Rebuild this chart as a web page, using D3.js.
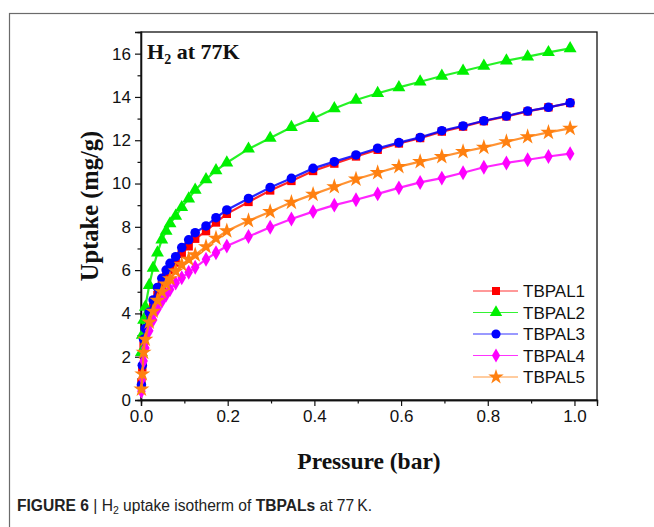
<!DOCTYPE html>
<html>
<head>
<meta charset="utf-8">
<script src="https://cdn.jsdelivr.net/npm/d3@7"></script>
<style>
  body { margin: 0; background: #fff; }
</style>
</head>
<body>
<script>
// Stage
let width = 654;
let height = 527;

let svg = d3.select("body")
            .append("svg")
            .attr("width", width)
            .attr("height", height);

// Colours
let frame_color = "#6b6b6b";
let axis_color = "#111";
let series_colors = ["#ff0000", "#00f000", "#0000ff", "#ff00ff", "#ff8010"];

// Data
const seriesNames = ["TBPAL1", "TBPAL2", "TBPAL3", "TBPAL4", "TBPAL5"];

const pressure = [0.001, 0.003, 0.006, 0.01, 0.019, 0.028, 0.038, 0.048, 0.058, 0.067,
                  0.08, 0.094, 0.11, 0.125, 0.15, 0.173, 0.198, 0.248, 0.298, 0.347,
                  0.397, 0.446, 0.496, 0.546, 0.595, 0.644, 0.694, 0.743, 0.791, 0.843,
                  0.892, 0.94, 0.99];

const tbpal1 = [0.8, 1.5, 2.5, 3.0, 3.7, 4.3, 4.85, 5.3, 5.7, 6.0,
                6.35, 6.75, 7.1, 7.45, 7.8, 8.2, 8.6, 9.15, 9.68, 10.12,
                10.58, 10.92, 11.25, 11.56, 11.85, 12.1, 12.4, 12.63, 12.88, 13.1,
                13.33, 13.52, 13.72];
const tbpal2 = [2.2, 3.0, 3.7, 4.3, 5.3, 6.1, 6.8, 7.4, 7.8, 8.15,
                8.5, 8.9, 9.3, 9.7, 10.19, 10.6, 10.96, 11.6, 12.1, 12.6,
                13.01, 13.47, 13.86, 14.17, 14.44, 14.7, 14.97, 15.2, 15.43, 15.67,
                15.86, 16.06, 16.24];
const tbpal3 = [0.7, 1.6, 2.8, 3.3, 4.05, 4.62, 5.2, 5.62, 6.0, 6.31,
                6.62, 7.04, 7.4, 7.73, 8.04, 8.42, 8.78, 9.31, 9.82, 10.24,
                10.7, 11.01, 11.32, 11.63, 11.89, 12.13, 12.44, 12.66, 12.9, 13.12,
                13.35, 13.52, 13.73];
const tbpal4 = [0.4, 1.0, 1.8, 2.4, 3.2, 3.7, 4.2, 4.55, 4.85, 5.1,
                5.4, 5.65, 5.9, 6.13, 6.5, 6.8, 7.11, 7.55, 7.98, 8.36,
                8.7, 9.0, 9.25, 9.52, 9.8, 10.05, 10.25, 10.5, 10.75, 10.95,
                11.1, 11.25, 11.38];
const tbpal5 = [0.5, 1.2, 2.2, 2.8, 3.6, 4.1, 4.6, 5.0, 5.35, 5.6,
                5.95, 6.25, 6.5, 6.7, 7.08, 7.47, 7.81, 8.28, 8.7, 9.13,
                9.5, 9.85, 10.2, 10.5, 10.78, 11.01, 11.24, 11.47, 11.67, 11.93,
                12.16, 12.36, 12.55];

const xTicks = [0, 0.2, 0.4, 0.6, 0.8, 1.0];
const xMinorTicks = [0.1, 0.3, 0.5, 0.7, 0.9];
const yTicks = [0, 2, 4, 6, 8, 10, 12, 14, 16];
const yMinorTicks = [1, 3, 5, 7, 9, 11, 13, 15];

const uptake = [tbpal1, tbpal2, tbpal3, tbpal4, tbpal5];
const symbols = [d3.symbolSquare, d3.symbolTriangle, d3.symbolCircle, d3.symbolDiamond, d3.symbolStar];
const symbolSizes = [70, 72, 72, 64, 80];

// Outer figure frame
svg.append("rect")
  .attr("x", 9.5)
  .attr("y", 13.5)
  .attr("width", 700)
  .attr("height", 600)
  .attr("fill", "none")
  .attr("stroke", frame_color)
  .attr("stroke-width", 1.2);

// Plot area
const margin = {top: 32, right: 57, bottom: 127, left: 141};
const chartWidth = width - margin.left - margin.right;
const chartHeight = height - margin.top - margin.bottom;

const x = d3.scaleLinear()
  .domain([0, 1.052])
  .range([0, chartWidth]);

const y = d3.scaleLinear()
  .domain([0, 17])
  .range([chartHeight, 0]);

let g = svg.append("g").attr("transform", `translate(${margin.left},${margin.top})`);

// Box
g.append("rect")
  .attr("width", chartWidth)
  .attr("height", chartHeight)
  .attr("fill", "none")
  .attr("stroke", axis_color)
  .attr("stroke-width", 1.3);

// Axes
let tickFont = "'Liberation Sans', Arial, sans-serif";

g.append("g")
  .attr("transform", `translate(0, ${chartHeight})`)
  .call(d3.axisBottom(x).tickValues(xTicks).tickSize(6).tickPadding(4).tickFormat(d3.format(".1f")));
g.append("g")
  .attr("transform", `translate(0, ${chartHeight})`)
  .call(d3.axisBottom(x).tickValues(xMinorTicks).tickSize(3.5).tickFormat(""));

g.append("g")
  .call(d3.axisLeft(y).tickValues(yTicks).tickSize(6).tickPadding(4));
g.append("g")
  .call(d3.axisLeft(y).tickValues(yMinorTicks).tickSize(3.5).tickFormat(""));

g.selectAll(".domain").attr("stroke", axis_color).attr("stroke-width", 1.3);
g.selectAll(".tick line").attr("stroke", axis_color).attr("stroke-width", 1.2);
g.selectAll(".tick text")
  .attr("font-family", tickFont)
  .attr("font-size", 17)
  .attr("fill", "#111");

// Series lines and markers
let line = d3.line()
  .x((d, i) => x(pressure[i]))
  .y(d => y(d));

seriesNames.forEach((name, k) => {
  let sg = g.append("g").attr("class", "series");
  sg.append("path")
    .datum(uptake[k])
    .attr("d", line)
    .attr("fill", "none")
    .attr("stroke", series_colors[k])
    .attr("stroke-opacity", 0.85)
    .attr("stroke-width", 2.2);
  sg.selectAll("path.marker")
    .data(uptake[k])
    .enter().append("path")
    .attr("class", "marker")
    .attr("d", d3.symbol().type(symbols[k]).size(symbolSizes[k]))
    .attr("transform", (d, i) => `translate(${x(pressure[i])},${y(d)})`)
    .attr("fill", series_colors[k]);
});

// Legend
let legend = svg.append("g").attr("transform", "translate(473, 291)");
seriesNames.forEach((name, k) => {
  let row = legend.append("g").attr("transform", `translate(0, ${k * 21.5})`);
  row.append("line")
    .attr("x1", 0).attr("x2", 45)
    .attr("stroke", series_colors[k])
    .attr("stroke-opacity", 0.8)
    .attr("stroke-width", 1.2);
  row.append("path")
    .attr("d", d3.symbol().type(symbols[k]).size(symbolSizes[k] - 6))
    .attr("transform", "translate(23,0)")
    .attr("fill", series_colors[k]);
  row.append("text")
    .attr("x", 50)
    .attr("y", 6)
    .attr("font-family", tickFont)
    .attr("font-size", 17)
    .attr("fill", "#111")
    .text(name);
});

// Title inside plot
let serif = "'Liberation Serif', 'Times New Roman', serif";
let title = svg.append("text")
  .attr("x", 147)
  .attr("y", 59)
  .attr("font-family", serif)
  .attr("font-weight", "bold")
  .attr("font-size", 22)
  .attr("fill", "#111");
title.append("tspan").text("H");
title.append("tspan").attr("font-size", 14).attr("dy", 5).text("2");
title.append("tspan").attr("dy", -5).text(" at 77K");

// Axis labels
svg.append("text")
  .attr("x", margin.left + chartWidth / 2)
  .attr("y", 469)
  .attr("text-anchor", "middle")
  .attr("font-family", serif)
  .attr("font-weight", "bold")
  .attr("font-size", 23.5)
  .attr("fill", "#111")
  .text("Pressure (bar)");

svg.append("text")
  .attr("transform", "translate(98, 206) rotate(-90)")
  .attr("text-anchor", "middle")
  .attr("font-family", serif)
  .attr("font-weight", "bold")
  .attr("font-size", 24.5)
  .attr("fill", "#111")
  .text("Uptake (mg/g)");

// Caption
let caption = svg.append("text")
  .attr("x", 17)
  .attr("y", 511)
  .attr("font-family", tickFont)
  .attr("font-size", 15.6)
  .attr("fill", "#222");
caption.append("tspan").attr("font-weight", "bold").text("FIGURE 6");
caption.append("tspan").text(" | H");
caption.append("tspan").attr("font-size", 10.5).attr("dy", 3).text("2");
caption.append("tspan").attr("dy", -3).text(" uptake isotherm of ");
caption.append("tspan").attr("font-weight", "bold").text("TBPALs");
caption.append("tspan").text(" at 77\u2009K.");
</script>
</body>
</html>
